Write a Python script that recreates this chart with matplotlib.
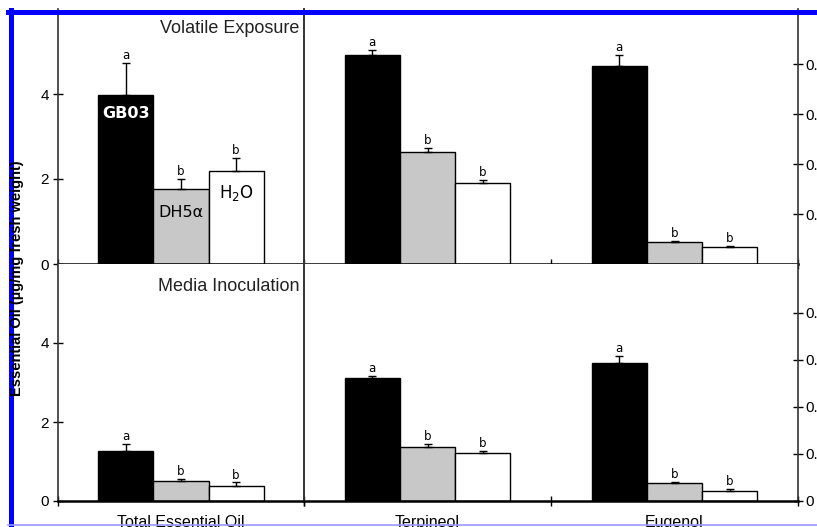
import matplotlib
matplotlib.use("Agg")
import matplotlib.pyplot as plt
from matplotlib.lines import Line2D
import numpy as np

plt.rcParams['font.family'] = ['Liberation Sans', 'DejaVu Sans']

# treatments (bar order inside each group)
treatments = ["GB03", "DH5α", "H$_2$O"]
bar_colors = ["black", "#c8c8c8", "white"]
letters = ["a", "b", "b"]
categories = ["Total Essential Oil", "Terpineol", "Eugenol"]

# volatile exposure (top row)
total_ve = [3.98, 1.76, 2.19]
total_ve_err = [0.75, 0.24, 0.30]
terp_ve = [0.418, 0.224, 0.162]
terp_ve_err = [0.010, 0.008, 0.006]
eug_ve = [0.396, 0.044, 0.034]
eug_ve_err = [0.022, 0.003, 0.003]

# media inoculation (bottom row)
total_mi = [1.27, 0.51, 0.38]
total_mi_err = [0.18, 0.05, 0.09]
terp_mi = [0.262, 0.115, 0.102]
terp_mi_err = [0.004, 0.006, 0.004]
eug_mi = [0.294, 0.038, 0.021]
eug_mi_err = [0.015, 0.002, 0.0045]

left_ticks = [0, 2, 4]
right_ticks_top = [0.1, 0.2, 0.3, 0.4]
right_ticks_bot = [0, 0.1, 0.2, 0.3, 0.4]

W = 0.224
offsets = np.array([-W, 0, W])

fig = plt.figure(figsize=(8.17, 5.27), dpi=100)

def px(x0, y_top, x1, y_bot):
    return [x0 / 817, 1 - y_bot / 527, (x1 - x0) / 817, (y_bot - y_top) / 527]

ax_tl = fig.add_axes(px(58, 9, 304, 264))
ax_tr = fig.add_axes(px(304, 9, 798, 264))
ax_bl = fig.add_axes(px(58, 264, 304, 501))
ax_br = fig.add_axes(px(304, 264, 798, 501))


def draw_group(ax, center, vals, errs):
    x = center + offsets
    ax.bar(x, vals, width=W, color=bar_colors, edgecolor="black", linewidth=1.0, zorder=2)
    ax.errorbar(x, vals, yerr=[np.zeros(3), errs], fmt="none", ecolor="black",
                elinewidth=1.0, capsize=3, capthick=1.0, zorder=3)
    for xi, v, e, l in zip(x, vals, errs, letters):
        ax.annotate(l, (xi, v + e), xytext=(0, 0.5), textcoords="offset points",
                    ha="center", va="bottom", fontsize=8.5, family="DejaVu Sans")


draw_group(ax_tl, 0, total_ve, total_ve_err)
draw_group(ax_bl, 0, total_mi, total_mi_err)
draw_group(ax_tr, 1, terp_ve, terp_ve_err)
draw_group(ax_tr, 2, eug_ve, eug_ve_err)
draw_group(ax_br, 1, terp_mi, terp_mi_err)
draw_group(ax_br, 2, eug_mi, eug_mi_err)

for ax in (ax_tl, ax_bl):
    ax.set_xlim(-0.5, 0.5)
    ax.set_ylim(0, 6)
    ax.set_yticks(left_ticks)
    ax.set_xticks([-0.5, 0.5])
    ax.set_xticklabels([])
for ax in (ax_tr, ax_br):
    ax.set_xlim(0.5, 2.5)
    ax.set_xticks([0.5, 1.5, 2.5])
    ax.set_xticklabels([])
    ax.yaxis.tick_right()
ax_tr.set_ylim(0, 0.51)
ax_tr.set_yticks(right_ticks_top)
ax_br.set_ylim(0, 0.504)
ax_br.set_yticks(right_ticks_bot)
ax_br.set_yticklabels(["0" if t == 0 else f"{t:.1f}" for t in right_ticks_bot])

for ax in (ax_tl, ax_tr, ax_bl, ax_br):
    ax.tick_params(axis="both", direction="inout", length=7, width=1.0,
                   labelsize=11, pad=3)
    ax.spines["top"].set_visible(False)
    ax.spines["bottom"].set_linewidth(1.8)
    for s in ("left", "right"):
        ax.spines[s].set_linewidth(1.2)
        ax.spines[s].set_color("#333333")

for ax in (ax_tr, ax_br):
    ax.tick_params(axis="y", pad=1.5)

for ax in (ax_tl, ax_bl):
    ax.spines["right"].set_visible(False)
for ax in (ax_tr, ax_br):
    ax.spines["left"].set_linewidth(1.4)

# category labels under the bottom row
ax_bl.set_xticks([0], minor=True)
ax_bl.set_xticklabels([categories[0]], minor=True)
ax_br.set_xticks([1, 2], minor=True)
ax_br.set_xticklabels(categories[1:], minor=True)
for ax in (ax_bl, ax_br):
    ax.tick_params(axis="x", which="minor", length=0, labelsize=11.5, pad=10)

ax_tl.text(0.98, 0.925, "Volatile Exposure", transform=ax_tl.transAxes,
           ha="right", va="center", fontsize=13, color="#222222")
ax_bl.text(0.98, 0.905, "Media Inoculation", transform=ax_bl.transAxes,
           ha="right", va="center", fontsize=13, color="#222222")

# treatment names inside the bars
ax_tl.text(offsets[0], 3.55, "GB03", ha="center", va="center", color="white",
           fontsize=11.5, fontweight="bold", family="DejaVu Sans")
ax_tl.text(offsets[1], 1.22, "DH5α", ha="center", va="center", color="black",
           fontsize=11.5, family="DejaVu Sans")
ax_tl.text(offsets[2], 1.68, "H$_2$O", ha="center", va="center", color="black",
           fontsize=12, family="DejaVu Sans")

fig.text(17 / 817, 1 - 278 / 527, "Essential Oil (µg/mg fresh weight)", rotation=90,
         ha="center", va="center", fontsize=10.5, fontweight="bold")

# blue frame of the scanned figure
fig.add_artist(Line2D([8 / 817, 1], [1 - 12 / 527] * 2, color="#0000ff", lw=3.6,
                      transform=fig.transFigure))
fig.add_artist(Line2D([10.5 / 817] * 2, [1 - 10 / 527, 0], color="#0000ff", lw=3.6,
                      transform=fig.transFigure))
fig.add_artist(Line2D([8 / 817, 1], [1.6 / 527] * 2, color="#9999ff", lw=1.2,
                      transform=fig.transFigure))

fig.savefig("out.png", dpi=100)
